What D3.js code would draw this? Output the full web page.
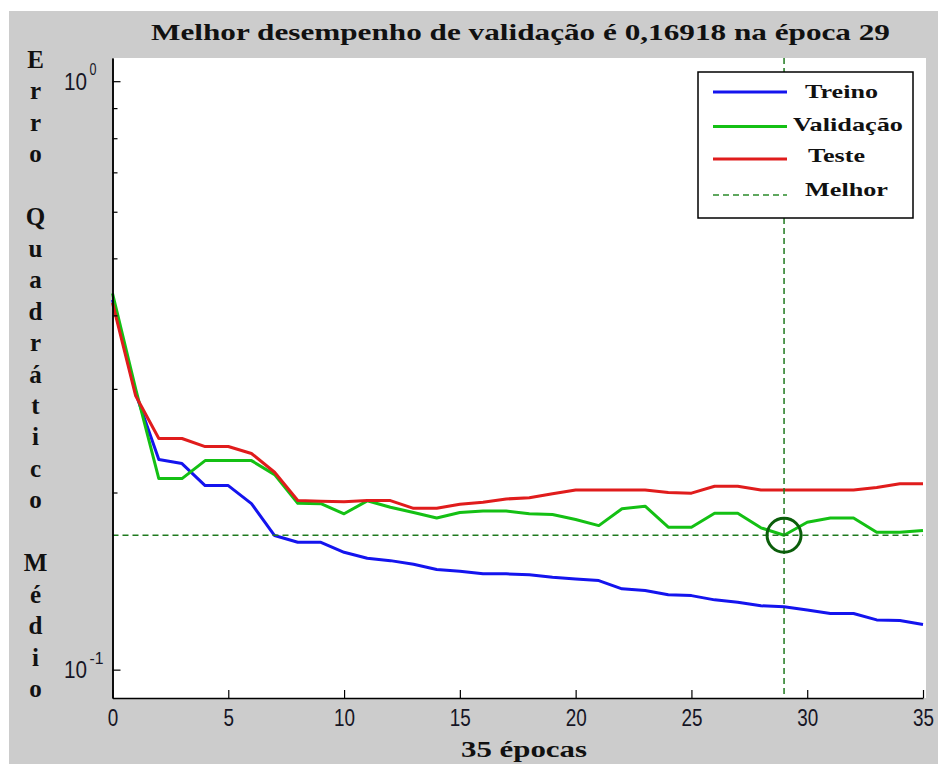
<!DOCTYPE html>
<html>
<head>
<meta charset="utf-8">
<script src="https://d3js.org/d3.v7.min.js"></script>
<style>
  body { margin: 0; background: #fff; }
  .serif { font-family: "Liberation Serif", "Times New Roman", serif; font-weight: bold; fill: #111; }
  .tick text, .ylab { font-family: "Liberation Sans", Arial, sans-serif; fill: #151525; }
  .tick text { font-size: 23px; }
  .domain { stroke: #000; stroke-width: 1.5px; }
  .tick line { stroke: #000; stroke-width: 1.2px; }
</style>
</head>
<body>
<svg id="chart" width="938" height="764"></svg>
<script>
// dados
var epocas = [0,1,2,3,4,5,6,7,8,9,10,11,12,13,14,15,16,17,18,19,20,21,22,23,24,25,26,27,28,29,30,31,32,33,34,35];
var treino = [0.425,0.295,0.2276,0.224,0.2055,0.2055,0.1915,0.169,0.1646,0.1646,0.1583,0.1546,0.1532,0.151,0.148,0.147,0.1455,0.1455,0.145,0.1436,0.1426,0.1417,0.1372,0.1363,0.1341,0.1336,0.1314,0.1302,0.1284,0.1279,0.1263,0.1246,0.1246,0.1215,0.1212,0.1193];
var validacao = [0.436,0.30,0.2112,0.2112,0.2266,0.2266,0.2266,0.2145,0.1918,0.1914,0.184,0.1936,0.1888,0.185,0.181,0.185,0.186,0.186,0.184,0.1835,0.180,0.1757,0.1877,0.1896,0.1746,0.1746,0.1844,0.1844,0.1742,0.16918,0.178,0.181,0.181,0.1712,0.1712,0.1724];
var teste = [0.42,0.292,0.2471,0.2471,0.2394,0.2394,0.233,0.2165,0.1938,0.1933,0.1929,0.1938,0.1938,0.188,0.188,0.191,0.1925,0.195,0.196,0.199,0.202,0.202,0.202,0.202,0.200,0.1995,0.205,0.205,0.202,0.202,0.202,0.202,0.202,0.204,0.207,0.207];
var melhorEpoca = 29;
var melhorValor = 0.16918;
var xTicks = [0,5,10,15,20,25,30,35];
var yMajor = [0.1, 1];
var yMinor = [0.2,0.3,0.4,0.5,0.6,0.7,0.8,0.9];
var yMajorExp = ["-1", "0"];
var legendNames = ["Treino", "Validação", "Teste", "Melhor"];
var title = "Melhor desempenho de validação é 0,16918 na época 29";
var xTitle = "35 épocas";
var yTitle = "Erro Quadrático Médio";

var svg = d3.select("#chart");
var pLeft = 112.5, pRight = 923, pTop = 58, pBottom = 698;

var x = d3.scaleLinear().domain([0, 35]).range([pLeft, pRight]);
var y = d3.scaleLog().domain([0.0895, 1.095]).range([pBottom, pTop]);

// fundo cinza
svg.append("rect").attr("x", 9).attr("y", 11).attr("width", 929).attr("height", 753).attr("fill", "#cccccc");
svg.append("rect").attr("x", pLeft).attr("y", pTop).attr("width", 926 - pLeft).attr("height", pBottom - pTop).attr("fill", "#fff");

// titulo
svg.append("text").attr("class", "serif")
  .attr("x", 151).attr("y", 40)
  .attr("font-size", 23)
  .attr("textLength", 739).attr("lengthAdjust", "spacingAndGlyphs")
  .text(title);

// rotulo vertical, uma letra por linha
yTitle.split("").forEach(function(ch, i) {
  svg.append("text").attr("class", "serif")
    .attr("x", 35.5).attr("y", 68 + i * 31.45)
    .attr("text-anchor", "middle").attr("font-size", 25)
    .text(ch);
});

// curvas
var line = d3.line()
  .x(function(d, i) { return x(epocas[i]); })
  .y(function(d) { return y(d); });

var series = [
  { vals: treino, color: "#1414ee" },
  { vals: validacao, color: "#14c014" },
  { vals: teste, color: "#e01c1c" }
];

series.forEach(function(s) {
  svg.append("path")
    .datum(s.vals)
    .attr("fill", "none")
    .attr("stroke", s.color)
    .attr("stroke-width", 3)
    .attr("stroke-linejoin", "round")
    .attr("d", line);
});

// melhor
svg.append("line")
  .attr("x1", pLeft).attr("x2", pRight)
  .attr("y1", y(melhorValor)).attr("y2", y(melhorValor))
  .attr("stroke", "#1f7a1f").attr("stroke-width", 1.5).attr("stroke-dasharray", "6,4");
svg.append("line")
  .attr("x1", x(melhorEpoca)).attr("x2", x(melhorEpoca))
  .attr("y1", pTop).attr("y2", pBottom)
  .attr("stroke", "#1f7a1f").attr("stroke-width", 1.5).attr("stroke-dasharray", "6,4");
svg.append("circle")
  .attr("cx", x(melhorEpoca)).attr("cy", y(melhorValor)).attr("r", 17)
  .attr("fill", "none").attr("stroke", "#0b5e0b").attr("stroke-width", 3);

// eixo x
var xAxis = svg.append("g")
  .attr("transform", `translate(0, ${pBottom})`)
  .call(d3.axisBottom(x).tickValues(xTicks).tickSizeInner(-8).tickSizeOuter(0).tickPadding(12));
xAxis.selectAll(".tick text")
  .attr("textLength", function(d) { return String(d).length * 10.5; })
  .attr("lengthAdjust", "spacingAndGlyphs");

svg.append("text").attr("class", "serif")
  .attr("x", 461).attr("y", 757)
  .attr("font-size", 24)
  .attr("textLength", 126).attr("lengthAdjust", "spacingAndGlyphs")
  .text(xTitle);

// eixo y (log)
svg.append("g")
  .attr("transform", `translate(${pLeft}, 0)`)
  .call(d3.axisLeft(y).tickValues(yMinor).tickSizeInner(-5).tickSizeOuter(0).tickFormat(""));
svg.append("g")
  .attr("transform", `translate(${pLeft}, 0)`)
  .call(d3.axisLeft(y).tickValues(yMajor).tickSizeInner(-8).tickSizeOuter(0).tickFormat(""));

yMajor.forEach(function(v, i) {
  svg.append("text").attr("class", "ylab")
    .attr("x", 64).attr("y", y(v) + 8.5)
    .attr("font-size", 23)
    .attr("textLength", 23).attr("lengthAdjust", "spacingAndGlyphs")
    .text("10");
  svg.append("text").attr("class", "ylab")
    .attr("x", 89.5).attr("y", y(v) - 6)
    .attr("font-size", 16)
    .attr("textLength", yMajorExp[i].length * 7).attr("lengthAdjust", "spacingAndGlyphs")
    .text(yMajorExp[i]);
});

// legenda
var lg = svg.append("g");
lg.append("rect").attr("x", 698).attr("y", 72).attr("width", 215).attr("height", 146)
  .attr("fill", "#fff").attr("stroke", "#000").attr("stroke-width", 1.5);

var legendLineY = [92, 126.5, 159, 195];
var legendTextY = [98, 131, 162, 196];
var legendTextX = [805, 793, 808, 805];
var legendTextW = [73, 110, 57, 83];
var legendColors = ["#1414ee", "#14c014", "#e01c1c", "#2a8a2a"];

legendNames.forEach(function(name, i) {
  lg.append("line")
    .attr("x1", 713).attr("x2", 787)
    .attr("y1", legendLineY[i]).attr("y2", legendLineY[i])
    .attr("stroke", legendColors[i])
    .attr("stroke-width", i == 3 ? 1.5 : 3)
    .attr("stroke-dasharray", i == 3 ? "6,4" : null);
  lg.append("text").attr("class", "serif")
    .attr("x", legendTextX[i]).attr("y", legendTextY[i])
    .attr("font-size", 19)
    .attr("textLength", legendTextW[i]).attr("lengthAdjust", "spacingAndGlyphs")
    .text(name);
});
</script>
</body>
</html>
